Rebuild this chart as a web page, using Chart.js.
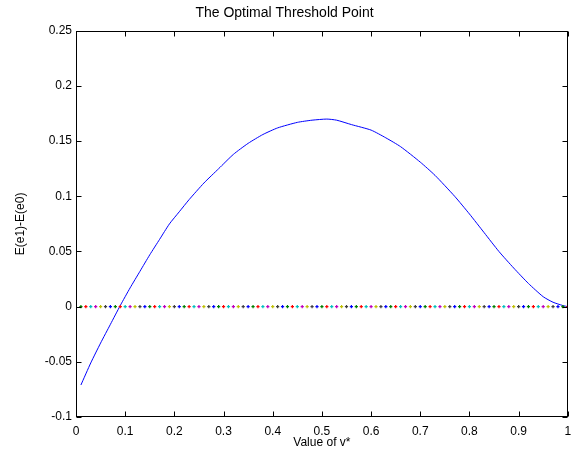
<!DOCTYPE html>
<html>
<head>
<meta charset="utf-8">
<script src="https://cdn.jsdelivr.net/npm/chart.js@4"></script>
<style>
  html, body { margin: 0; padding: 0; background: #fff; }
  canvas { display: block; }
</style>
</head>
<body>
<canvas id="chart" width="573" height="459"></canvas>
<script>
// curve E(e1)-E(e0) against v*
const curveX = [0.01, 0.03, 0.05, 0.07, 0.09, 0.11, 0.13, 0.15, 0.17, 0.19, 0.21, 0.23,
  0.26, 0.29, 0.32, 0.35, 0.38, 0.41, 0.45, 0.48, 0.51, 0.53, 0.56, 0.60, 0.63, 0.66,
  0.70, 0.73, 0.77, 0.80, 0.83, 0.86, 0.89, 0.92, 0.95, 0.97, 0.99, 1.00];
const curveY = [-0.071, -0.051, -0.033, -0.016, 0.001, 0.017, 0.032, 0.047, 0.061, 0.075, 0.086, 0.097,
  0.112, 0.125, 0.138, 0.148, 0.156, 0.162, 0.167, 0.169, 0.170, 0.169, 0.165, 0.160, 0.153, 0.145,
  0.131, 0.119, 0.100, 0.084, 0.067, 0.050, 0.035, 0.021, 0.009, 0.004, 0.001, 0.000];

// zero line drawn as separate coloured dots (matlab colour order)
const dotX = [];
for (let i = 1; i <= 100; i++) dotX.push(i / 100);
const dotY = dotX.map(() => 0);
const colorOrder = ['#0000ff', '#008000', '#ff0000', '#00bfbf', '#bf00bf', '#bfbf00', '#404040'];

const xTicks = [0, 0.1, 0.2, 0.3, 0.4, 0.5, 0.6, 0.7, 0.8, 0.9, 1];
const yTicks = [-0.1, -0.05, 0, 0.05, 0.1, 0.15, 0.2, 0.25];

const fontFamily = '"Liberation Sans", Arial, Helvetica, sans-serif';
const fmt = v => String(Number(v.toFixed(3)));

const boxPlugin = {
  id: 'box',
  afterDraw(chart) {
    const { ctx, chartArea: a, scales } = chart;
    const L = Math.round(a.left) + 0.5, R = Math.round(a.right) - 0.5;
    const T = Math.round(a.top) + 0.5, B = Math.round(a.bottom) - 0.5;
    ctx.save();
    ctx.strokeStyle = '#000';
    ctx.lineWidth = 1;
    ctx.strokeRect(L, T, R - L, B - T);
    ctx.beginPath();
    const len = 5;
    xTicks.forEach(v => {
      const px = Math.round(scales.x.getPixelForValue(v)) + 0.5;
      ctx.moveTo(px, B); ctx.lineTo(px, B - len);
      ctx.moveTo(px, T); ctx.lineTo(px, T + len);
    });
    yTicks.forEach(v => {
      const py = Math.round(scales.y.getPixelForValue(v)) + 0.5;
      ctx.moveTo(L, py); ctx.lineTo(L + len, py);
      ctx.moveTo(R, py); ctx.lineTo(R - len, py);
    });
    ctx.stroke();
    ctx.restore();
  }
};

const ctx = document.getElementById('chart').getContext('2d');
new Chart(ctx, {
  type: 'scatter',
  data: {
    datasets: [{
      label: 'zero',
      data: dotX.map((x, i) => ({ x, y: dotY[i] })),
      showLine: false,
      pointStyle: 'cross',
      pointRadius: 1.6,
      pointBorderWidth: 1.2,
      pointBorderColor: dotX.map((x, i) => colorOrder[(i + 1) % 7]),
      pointBackgroundColor: dotX.map((x, i) => colorOrder[(i + 1) % 7])
    }, {
      label: 'E(e1)-E(e0)',
      data: curveX.map((x, i) => ({ x, y: curveY[i] })),
      showLine: true,
      borderColor: '#0000ff',
      borderWidth: 1,
      pointRadius: 0,
      tension: 0.2,
      fill: false
    }]
  },
  options: {
    responsive: false,
    animation: false,
    layout: { padding: { left: 0, right: 4, top: 0, bottom: 0 } },
    plugins: {
      legend: { display: false },
      tooltip: { enabled: false },
      title: {
        display: true,
        text: 'The Optimal Threshold Point',
        color: '#000',
        font: { family: fontFamily, size: 14, weight: 'normal' },
        padding: { top: 5, bottom: 9 }
      }
    },
    scales: {
      x: {
        type: 'linear',
        min: 0,
        max: 1,
        afterFit: s => { s.height = 42; s.paddingLeft = 0; s.paddingRight = 0; },
        afterBuildTicks: s => { s.ticks = xTicks.map(v => ({ value: v })); },
        grid: { display: false, drawTicks: false },
        border: { display: false },
        ticks: {
          color: '#000',
          padding: 7,
          maxRotation: 0,
          font: { family: fontFamily, size: 12 },
          callback: v => fmt(v)
        },
        title: {
          display: true,
          text: 'Value of v*',
          color: '#000',
          font: { family: fontFamily, size: 12 },
          padding: { top: 0, bottom: 9 }
        }
      },
      y: {
        type: 'linear',
        min: -0.1,
        max: 0.25,
        afterFit: s => { s.width = 76; s.paddingTop = 0; s.paddingBottom = 0; },
        afterBuildTicks: s => { s.ticks = yTicks.map(v => ({ value: v })); },
        grid: { display: false, drawTicks: false },
        border: { display: false },
        ticks: {
          color: '#000',
          padding: 4,
          font: { family: fontFamily, size: 12 },
          callback: v => fmt(v)
        },
        title: {
          display: true,
          text: 'E(e1)-E(e0)',
          color: '#000',
          font: { family: fontFamily, size: 12 },
          padding: { top: 13, bottom: 0 }
        }
      }
    }
  },
  plugins: [boxPlugin]
});
</script>
</body>
</html>
